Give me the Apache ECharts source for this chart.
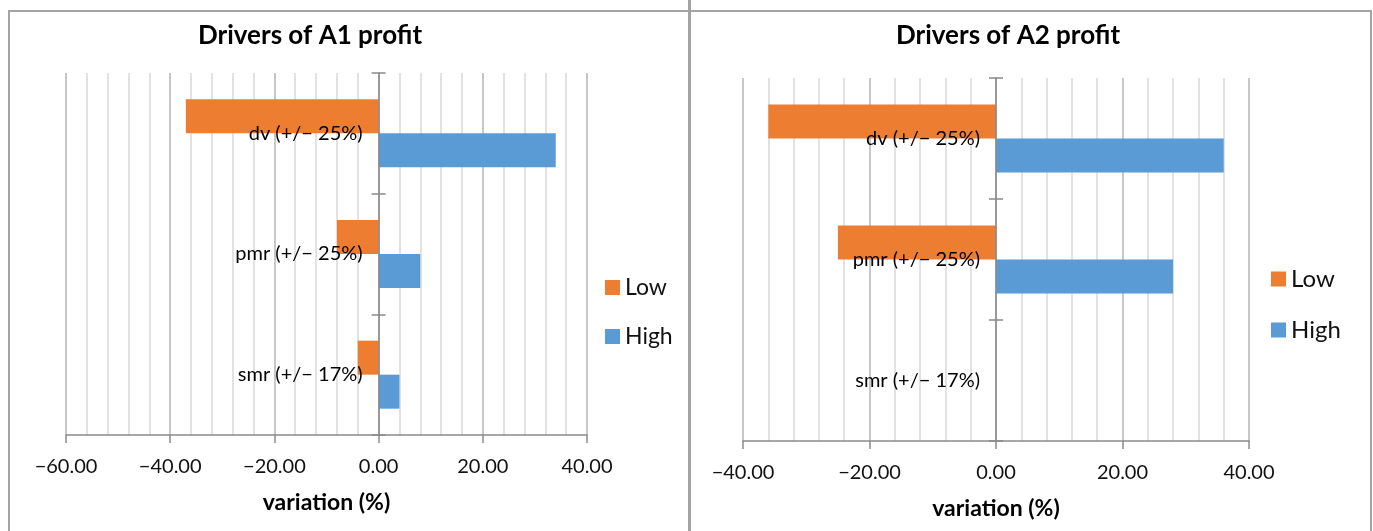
<!DOCTYPE html>
<html>
<head>
<meta charset="utf-8">
<script src="https://cdn.jsdelivr.net/npm/echarts@6/dist/echarts.min.js"></script>
<style>
html,body{margin:0;padding:0;background:#fff;}
#c{position:absolute;left:0;top:0;width:1373px;height:531px;}
.b{position:absolute;background:#a3a3a3;}
</style>
</head>
<body>
<div id="c"></div>
<div class="b" style="left:8px;top:10px;width:1364px;height:2px;"></div>
<div class="b" style="left:8px;top:10px;width:2px;height:521px;"></div>
<div class="b" style="left:688px;top:0px;width:3px;height:531px;"></div>
<div class="b" style="left:1370px;top:10px;width:2px;height:521px;"></div>
<script>
const categories = ['dv (+/\u2212 25%)', 'pmr (+/\u2212 25%)', 'smr (+/\u2212 17%)'];
const seriesNames = ['Low', 'High'];
const a1Low = [-37, -8, -4];
const a1High = [34, 8, 4];
const a2Low = [-36, -25, 0];
const a2High = [36, 28, 0];
const titles = ['Drivers of A1 profit', 'Drivers of A2 profit'];
const axisTitle = 'variation (%)';
const xRanges = [[-60, 40], [-40, 40]];

const FONT = 'Lato';
const colLow = '#ED7D31', colHigh = '#5B9BD5';
const axisCol = '#8a8a8a';
const fmt = v => (v < 0 ? '\u2212' : '') + Math.abs(v).toFixed(2);

const grids = [
  {left: 66, top: 73, width: 521, height: 362, containLabel: false, outerBoundsMode: 'none'},
  {left: 743, top: 78, width: 506, height: 363, containLabel: false, outerBoundsMode: 'none'}
];

function xAxisFor(i) {
  return {
    type: 'value', gridIndex: i, min: xRanges[i][0], max: xRanges[i][1], interval: 20,
    name: axisTitle, nameLocation: 'middle', nameGap: 56,
    nameTextStyle: {fontFamily: FONT, fontWeight: 'bold', fontSize: 23, color: '#000'},
    axisLine: {show: true, onZero: false, lineStyle: {color: axisCol, width: 1.5}},
    axisTick: {show: true, length: 8, lineStyle: {color: axisCol, width: 1.5}},
    axisLabel: {formatter: fmt, fontFamily: FONT, fontSize: 20, color: '#111', margin: 22},
    splitLine: {show: true, lineStyle: {color: '#b5b5b5', width: 1.5}},
    minorTick: {show: false, splitNumber: 5},
    minorSplitLine: {show: true, lineStyle: {color: '#d9d9d9', width: 1.5}}
  };
}
function yAxisFor(i, off) {
  return [{
    type: 'category', gridIndex: i, data: categories, inverse: true, position: 'left', offset: off,
    axisLine: {show: true, onZero: false, lineStyle: {color: axisCol, width: 1.5}},
    axisTick: {show: true, length: 7, lineStyle: {color: axisCol, width: 1.5}},
    axisLabel: {fontFamily: FONT, fontSize: 20, color: '#000', margin: 16},
    splitLine: {show: false}, z: 5
  }, {
    type: 'category', gridIndex: i, data: categories, inverse: true, position: 'left', offset: off,
    axisLine: {show: false, onZero: false},
    axisTick: {show: true, inside: true, length: 7, lineStyle: {color: axisCol, width: 1.5}},
    axisLabel: {show: false},
    splitLine: {show: false}, z: 5
  }];
}

const series = [];
[[a1Low, a1High], [a2Low, a2High]].forEach((pair, i) => {
  series.push({name: seriesNames[0], type: 'bar', xAxisIndex: i, yAxisIndex: i * 2, data: pair[0],
    barWidth: 34, barGap: '0%', itemStyle: {color: colLow}, z: 3});
  series.push({name: seriesNames[1], type: 'bar', xAxisIndex: i, yAxisIndex: i * 2, data: pair[1],
    barWidth: 34, barGap: '0%', itemStyle: {color: colHigh}, z: 3});
});

const chart = echarts.init(document.getElementById('c'));
function build(offs) {
  return {
    animation: false,
    title: [
      {text: titles[0], left: 305, top: 18, textAlign: 'center',
       textStyle: {fontFamily: FONT, fontWeight: 'bold', fontSize: 26, color: '#000'}},
      {text: titles[1], left: 1003, top: 18, textAlign: 'center',
       textStyle: {fontFamily: FONT, fontWeight: 'bold', fontSize: 26, color: '#000'}}
    ],
    legend: [
      {data: seriesNames, orient: 'vertical', left: 600, top: 271, icon: 'rect', itemWidth: 15, itemHeight: 15, itemGap: 26,
       textStyle: {fontFamily: FONT, fontSize: 23, color: '#111'}, selectedMode: false},
      {data: seriesNames, orient: 'vertical', left: 1266, top: 262, icon: 'rect', itemWidth: 15, itemHeight: 15, itemGap: 27,
       textStyle: {fontFamily: FONT, fontSize: 24, color: '#111'}, selectedMode: false}
    ],
    grid: grids,
    xAxis: [xAxisFor(0), xAxisFor(1)],
    yAxis: yAxisFor(0, offs[0]).concat(yAxisFor(1, offs[1])),
    series: series
  };
}
chart.setOption(build([0, 0]));
// place the category axis on the value axis zero, using the library's own scale
const offs = [0, 1].map(i => {
  const zero = chart.convertToPixel({xAxisIndex: i}, 0);
  return -(zero - grids[i].left);
});
chart.setOption(build(offs));
</script>
</body>
</html>
